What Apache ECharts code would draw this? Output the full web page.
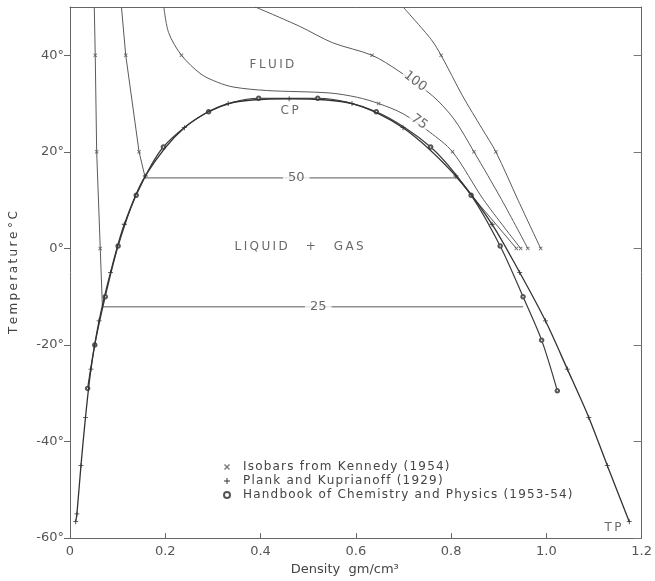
<!DOCTYPE html>
<html>
<head>
<meta charset="utf-8">
<script src="https://cdn.jsdelivr.net/npm/echarts@6.0.0/dist/echarts.min.js"></script>
<style>html,body{margin:0;padding:0;background:#fff;}#c{width:655px;height:581px;}</style>
</head>
<body>
<div id="c"></div>
<script>
// ---- Axis ticks ----
const xTicks = [0, 0.2, 0.4, 0.6, 0.8, 1.0, 1.2];
const xTickLabels = ['0', '0.2', '0.4', '0.6', '0.8', '1.0', '1.2'];
const yTicks = [-60, -40, -20, 0, 20, 40];
const yTickLabels = ['-60°', '-40°', '-20°', '0°', '20°', '40°'];

// ---- Isobars (density gm/cm3, temperature °C) ----
const iso25D = [0.051, 0.053, 0.056, 0.0635, 0.068, 0.951];
const iso25T = [50, 40, 20, 0, -12.1, -12.1];
const iso50D = [0.108, 0.117, 0.145, 0.158, 0.812, 0.937];
const iso50T = [50, 40, 20, 14.6, 14.6, 0];
const iso75D = [0.197, 0.207, 0.234, 0.275, 0.31, 0.344, 0.413, 0.544, 0.603, 0.648, 0.699, 0.755, 0.803, 0.868, 0.946];
const iso75T = [50, 44.7, 40, 36.1, 34.4, 33.4, 32.7, 32.2, 31.3, 30, 27.9, 24.1, 20, 10.1, 0];
const iso100D = [0.389, 0.482, 0.551, 0.634, 0.689, 0.761, 0.806, 0.848, 0.906, 0.961];
const iso100T = [50, 46, 42.6, 40, 36.8, 31.6, 26.8, 20, 10.1, 0];
const isoHiD = [0.699, 0.758, 0.779, 0.824, 0.865, 0.894, 0.941, 0.988];
const isoHiT = [50, 43.3, 40, 31.6, 24.8, 20, 9.9, 0];

// ---- Kennedy isobar points ----
const kenD = [0.053, 0.056, 0.0635, 0.117, 0.145, 0.234, 0.634, 0.779, 0.648, 0.803, 0.848, 0.894, 0.937, 0.946, 0.961, 0.988];
const kenT = [40, 20, 0, 40, 20, 40, 40, 40, 30, 20, 20, 20, 0, 0, 0, 0];

// ---- Plank and Kuprianoff (1929) ----
const plankD = [0.012, 0.0145, 0.023, 0.0325, 0.044, 0.061, 0.085, 0.114, 0.158, 0.24, 0.332, 0.46, 0.592, 0.699, 0.81, 0.886, 0.944, 0.998, 1.044, 1.089, 1.128, 1.174];
const plankT = [-56.6, -55, -45, -35, -25, -15, -5, 5, 15, 25, 30, 31, 30, 25, 15, 5, -5, -15, -25, -35, -45, -56.6];

// ---- Handbook of Chemistry and Physics (1953-54) ----
const handD = [0.037, 0.052, 0.074, 0.101, 0.139, 0.196, 0.291, 0.396, 0.52, 0.643, 0.757, 0.842, 0.903, 0.951, 0.99, 1.023];
const handT = [-29, -20, -10, 0.5, 11, 21, 28.3, 31.1, 31.1, 28.3, 21, 11, 0.5, -10, -19, -29.5];

// ---- Annotations ----
const labelText = ['FLUID', 'CP', 'LIQUID + GAS', '100', '75', '50', '25', 'TP'];
const labelD = [0.424, 0.461, 0.481, 0.7245, 0.733, 0.475, 0.521, 1.14];
const labelT = [38.1, 28.4, 0.25, 34.6, 26.2, 14.6, -12.1, -57.9];

const names = ['Isobars from Kennedy (1954)', 'Plank and Kuprianoff (1929)', 'Handbook of Chemistry and Physics (1953-54)'];

function pairs(d, t) { return d.map((v, i) => [v, t[i]]); }

const FONT = 'DejaVu Sans';
const INK = '#444';
const LINE = '#5a5a5a';
const XPATH = 'path://M0,1.6L1.6,0L5,3.4L8.4,0L10,1.6L6.6,5L10,8.4L8.4,10L5,6.6L1.6,10L0,8.4L3.4,5Z';
const PLUSPATH = 'path://M4.2,0H5.8V4.2H10V5.8H5.8V10H4.2V5.8H0V4.2H4.2Z';
const TS = '\u2009';
function spaced(s, sep) { return s.split('').join(sep || TS); }

function labelDisplay(i) {
  const s = labelText[i];
  if (s === 'FLUID') return spaced('FLUID');
  if (s === 'LIQUID + GAS') return spaced('LIQUID') + '\u2003\u2002+\u2003\u2002' + spaced('GAS');
  if (s === 'CP' || s === 'TP') return spaced(s);
  return s;
}
function labelStyle(i) {
  const s = labelText[i];
  const base = { show: true, position: 'inside', color: INK, fontFamily: FONT, fontSize: 12, formatter: labelDisplay(i) };
  if (s === '100' || s === '75') {
    return Object.assign(base, { fontSize: 13, rotate: -37, backgroundColor: '#fff', padding: [0, 2] });
  }
  if (s === '50' || s === '25') {
    return Object.assign(base, { fontSize: 13, backgroundColor: '#fff', padding: [0, 5] });
  }
  return base;
}

function isoSeries(d, t, smooth) {
  return {
    type: 'line', data: pairs(d, t), symbol: 'none', smooth: smooth ? 0.3 : false,
    lineStyle: { color: LINE, width: 1 }, silent: true, z: 2
  };
}

const chart = echarts.init(document.getElementById('c'), null, { renderer: 'canvas' });

function fmt(list, labels) {
  return function (v) {
    const i = list.findIndex(x => Math.abs(x - v) < 1e-6);
    return i >= 0 ? labels[i] : '';
  };
}

chart.setOption({
  animation: false,
  backgroundColor: '#fff',
  grid: { left: 67, right: 11, top: 7, bottom: 39 },
  xAxis: [{
    type: 'value', min: 0, max: 1.2,
    axisLine: { show: true, onZero: false, lineStyle: { color: '#666', width: 1 } },
    axisTick: { show: true, inside: true, length: 5, customValues: xTicks, lineStyle: { color: '#666' } },
    axisLabel: { customValues: xTicks, formatter: fmt(xTicks, xTickLabels), color: '#555', fontFamily: FONT, fontSize: 13, margin: 7 },
    splitLine: { show: false },
    name: 'Density  gm/cm³', nameLocation: 'middle', nameGap: 24,
    nameTextStyle: { color: INK, fontFamily: FONT, fontSize: 13, padding: [0, 22, 0, 0] }
  }, {
    type: 'value', min: 0, max: 1.2, position: 'top',
    axisLine: { show: true, onZero: false, lineStyle: { color: '#666', width: 1 } },
    axisTick: { show: false }, axisLabel: { show: false }, splitLine: { show: false }
  }],
  yAxis: [{
    type: 'value', min: -60, max: 50,
    axisLine: { show: true, onZero: false, lineStyle: { color: '#666', width: 1 } },
    axisTick: { show: true, inside: false, length: 6, customValues: yTicks, lineStyle: { color: '#666' } },
    axisLabel: { customValues: yTicks, formatter: fmt(yTicks, yTickLabels), color: '#555', fontFamily: FONT, fontSize: 13, margin: 6 },
    splitLine: { show: false },
    name: spaced('Temperature') + ' ' + spaced('°C'), nameLocation: 'middle', nameGap: 50,
    nameTextStyle: { color: INK, fontFamily: FONT, fontSize: 12 }
  }, {
    type: 'value', min: -60, max: 50, position: 'right',
    axisLine: { show: true, onZero: false, lineStyle: { color: '#666', width: 1 } },
    axisTick: { show: true, inside: true, length: 8, customValues: yTicks, lineStyle: { color: '#777' } },
    axisLabel: { show: false }, splitLine: { show: false }
  }],
  legend: {
    orient: 'vertical', left: 218, top: 456, itemWidth: 6, itemHeight: 6, itemGap: 2,
    textStyle: { color: INK, fontFamily: FONT, fontSize: 12, padding: [0, 0, 0, 8] },
    formatter: function (n) { return spaced(n, '\u200A'); },
    selectedMode: false,
    data: [
      { name: names[0], icon: XPATH },
      { name: names[1], icon: PLUSPATH },
      { name: names[2], icon: 'emptyCircle' }
    ]
  },
  series: [
    isoSeries(iso25D, iso25T, false),
    isoSeries(iso50D, iso50T, false),
    isoSeries(iso75D, iso75T, true),
    isoSeries(iso100D, iso100T, true),
    isoSeries(isoHiD, isoHiT, true),
    {
      name: names[2], type: 'line', data: pairs(handD, handT), smooth: 0.3,
      symbol: 'emptyCircle', symbolSize: 3.5, showAllSymbol: true,
      lineStyle: { color: '#3a3a3a', width: 1.2 }, itemStyle: { color: '#555', borderWidth: 1 }, z: 3
    },
    {
      name: names[1], type: 'line', data: pairs(plankD, plankT), smooth: 0.3,
      symbol: PLUSPATH, symbolSize: 5, showAllSymbol: true,
      lineStyle: { color: '#333', width: 1.3 }, itemStyle: { color: '#333' }, z: 4
    },
    {
      name: names[0], type: 'scatter', data: pairs(kenD, kenT),
      symbol: XPATH, symbolSize: 4, itemStyle: { color: '#555' }, z: 5
    },
    {
      type: 'scatter', silent: true, z: 10,
      symbolSize: 1, itemStyle: { color: 'rgba(0,0,0,0)' },
      data: labelText.map((s, i) => ({ value: [labelD[i], labelT[i]], label: labelStyle(i) }))
    }
  ]
});
</script>
</body>
</html>
